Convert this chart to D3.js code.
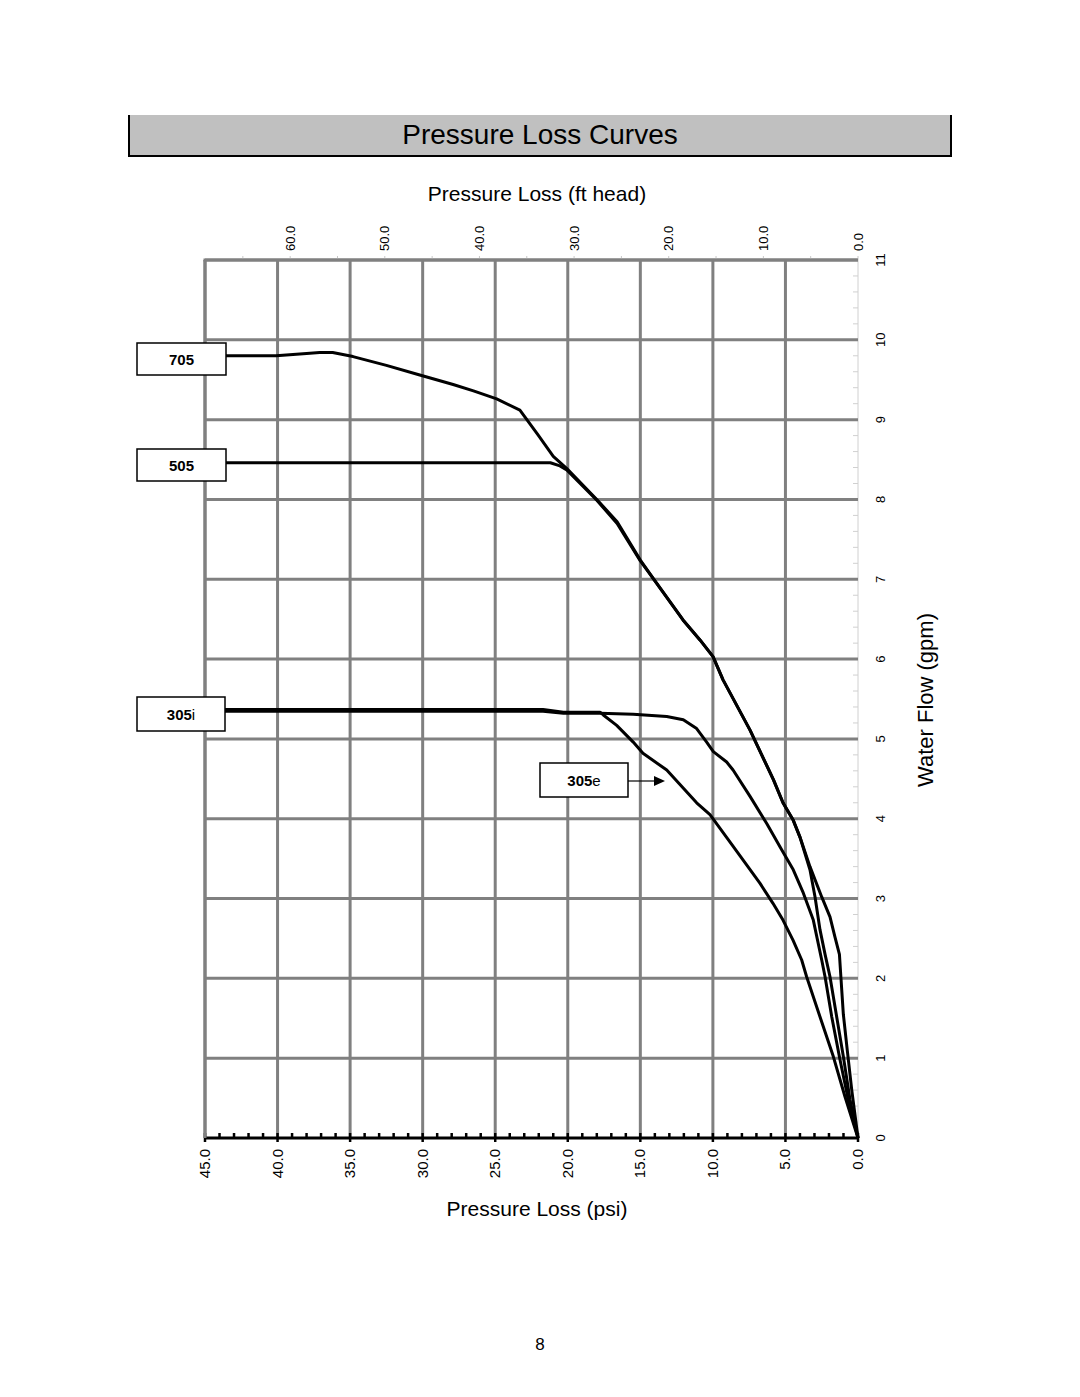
<!DOCTYPE html>
<html>
<head>
<meta charset="utf-8">
<script src="https://cdn.jsdelivr.net/npm/d3@7/dist/d3.min.js"></script>
<style>
  html, body { margin: 0; padding: 0; background: #fff; }
  svg { display: block; font-family: "Liberation Sans", Arial, sans-serif; }
</style>
</head>
<body>
<svg id="chart" width="1080" height="1397"></svg>
<script>
// ---- Data (pressure loss psi, water flow gpm) ----
const psiTicks = [45, 40, 35, 30, 25, 20, 15, 10, 5, 0];
const ftTicks = [60, 50, 40, 30, 20, 10, 0];
const gpmTicks = [0, 1, 2, 3, 4, 5, 6, 7, 8, 9, 10, 11];

const series705 = [
  [45, 9.80], [40.1, 9.80], [38.0, 9.83], [37.1, 9.84], [36.2, 9.84], [34.8, 9.79],
  [32.5, 9.68], [30.2, 9.56], [27.9, 9.44], [26.5, 9.36], [24.9, 9.26], [23.3, 9.12],
  [22.05, 8.81], [21.0, 8.54], [20.08, 8.39], [18.0, 8.00], [16.6, 7.72], [15.0, 7.24],
  [13.87, 6.95], [12.06, 6.49], [10.89, 6.24], [9.99, 6.03], [9.30, 5.74], [7.44, 5.11],
  [5.83, 4.49], [5.17, 4.20], [4.46, 3.98], [4.00, 3.77], [3.31, 3.40], [2.50, 3.02],
  [1.93, 2.77], [1.59, 2.52], [1.28, 2.30], [1.18, 2.02], [1.01, 1.55], [0.74, 1.10],
  [0.43, 0.60], [0, 0]
];
const series505 = [
  [45, 8.46], [21.2, 8.46], [20.54, 8.42], [20.07, 8.37], [18.0, 7.99], [16.6, 7.70],
  [15.0, 7.23], [13.87, 6.95], [12.06, 6.49], [10.89, 6.24], [9.99, 6.03], [9.30, 5.74],
  [7.44, 5.11], [5.83, 4.49], [5.17, 4.20], [4.46, 3.98], [4.00, 3.77], [3.31, 3.36],
  [2.96, 3.02], [2.62, 2.61], [2.27, 2.30], [1.93, 2.02], [1.47, 1.52], [1.01, 1.02],
  [0.55, 0.48], [0, 0]
];
const series305i = [
  [45, 5.345], [21.7, 5.345], [20.3, 5.32], [17.78, 5.32], [15.49, 5.31], [13.18, 5.28],
  [12.04, 5.24], [11.12, 5.13], [10.43, 4.96], [9.97, 4.84], [9.05, 4.71], [8.61, 4.61],
  [7.44, 4.28], [6.29, 3.94], [5.26, 3.61], [4.46, 3.36], [3.77, 3.07], [3.08, 2.73],
  [2.50, 2.23], [2.27, 2.02], [1.81, 1.52], [1.24, 0.98], [0.67, 0.48], [0, 0]
];
const series305e = [
  [45, 5.37], [21.7, 5.37], [20.3, 5.335], [17.78, 5.335], [17.55, 5.30], [16.63, 5.17],
  [15.49, 4.96], [14.82, 4.82], [13.18, 4.61], [11.12, 4.20], [10.20, 4.05], [8.59, 3.65],
  [6.75, 3.19], [5.86, 2.94], [5.17, 2.73], [4.48, 2.48], [3.88, 2.23], [3.54, 2.02],
  [2.62, 1.52], [1.70, 1.02], [0.90, 0.52], [0, 0]
];
const seriesNames = ["705", "505", "305i", "305e"];

// ---- Layout ----
const svg = d3.select("#chart");
const X0 = 205, X1 = 858, Y0 = 1138, Y1 = 260;
const x = d3.scaleLinear().domain([45, 0]).range([X0, X1]);
const xFt = d3.scaleLinear().domain([69, 0]).range([X0, X1]);
const y = d3.scaleLinear().domain([0, 11]).range([Y0, Y1]);

// Title box
svg.append("rect").attr("x", 128).attr("y", 115).attr("width", 824).attr("height", 41)
  .attr("fill", "#c0c0c0");
svg.append("path").attr("d", "M129,115 V156 H951 V115")
  .attr("fill", "none").attr("stroke", "#000").attr("stroke-width", 2);
svg.append("text").attr("x", 540).attr("y", 144).attr("text-anchor", "middle")
  .attr("font-size", 28).text("Pressure Loss Curves");

// Axis titles
svg.append("text").attr("x", 537).attr("y", 201).attr("text-anchor", "middle")
  .attr("font-size", 21).text("Pressure Loss (ft head)");
svg.append("text").attr("x", 537).attr("y", 1216).attr("text-anchor", "middle")
  .attr("font-size", 21).text("Pressure Loss (psi)");
svg.append("text").attr("transform", "translate(933,700) rotate(-90)")
  .attr("text-anchor", "middle").attr("font-size", 22).text("Water Flow (gpm)");

// Right axis line and minor ticks
svg.append("line").attr("x1", X1).attr("x2", X1).attr("y1", Y1).attr("y2", Y0)
  .attr("stroke", "#d0d0d0").attr("stroke-width", 1);
const minorGpm = d3.range(0, 11.0001, 0.2);
svg.append("g").selectAll("line").data(minorGpm).join("line")
  .attr("x1", X1 - 5).attr("x2", X1).attr("y1", d => y(d)).attr("y2", d => y(d))
  .attr("stroke", "#d0d0d0").attr("stroke-width", 1);

// Grid
const grid = svg.append("g").attr("stroke", "#808080").attr("stroke-width", 3);
grid.selectAll("line.h").data(gpmTicks.filter(d => d > 0)).join("line").attr("class", "h")
  .attr("x1", X0).attr("x2", X1).attr("y1", d => y(d)).attr("y2", d => y(d));
grid.selectAll("line.v").data(psiTicks.filter(d => d > 0)).join("line").attr("class", "v")
  .attr("x1", d => x(d)).attr("x2", d => x(d)).attr("y1", Y1).attr("y2", Y0);

// Top axis (ft head) ticks & labels
svg.append("g").selectAll("line").data(d3.range(0, 69, 5)).join("line")
  .attr("x1", d => xFt(d)).attr("x2", d => xFt(d)).attr("y1", Y1 - 4).attr("y2", Y1)
  .attr("stroke", "#c8c8c8").attr("stroke-width", 1);
svg.append("g").selectAll("text").data(ftTicks).join("text")
  .attr("transform", d => `translate(${xFt(d) + 4.5},251) rotate(-90)`)
  .attr("font-size", 13).attr("text-anchor", "start")
  .text(d => d.toFixed(1));

// Right axis labels
svg.append("g").selectAll("text").data(gpmTicks).join("text")
  .attr("transform", d => `translate(885,${y(d)}) rotate(-90)`)
  .attr("font-size", 13).attr("text-anchor", "middle")
  .text(d => d);

// Bottom axis: thick black with psi ticks
svg.append("g").selectAll("line").data(d3.range(0, 45.001, 1)).join("line")
  .attr("x1", d => x(d)).attr("x2", d => x(d))
  .attr("y1", Y0 - 5).attr("y2", d => (d % 5 === 0 ? Y0 + 4 : Y0))
  .attr("stroke", "#000").attr("stroke-width", 2.5);
svg.append("line").attr("x1", X0).attr("x2", X1).attr("y1", Y0).attr("y2", Y0)
  .attr("stroke", "#000").attr("stroke-width", 3);
svg.append("g").selectAll("text").data(psiTicks).join("text")
  .attr("transform", d => `translate(${x(d) + 5},1149) rotate(-90)`)
  .attr("font-size", 15).attr("text-anchor", "end")
  .text(d => d.toFixed(1));

// Top axis line (gray)
svg.append("line").attr("x1", X0 - 1.5).attr("x2", X1).attr("y1", Y1).attr("y2", Y1)
  .attr("stroke", "#808080").attr("stroke-width", 3);
svg.append("line").attr("x1", X0).attr("x2", X0).attr("y1", Y1).attr("y2", Y0)
  .attr("stroke", "#808080").attr("stroke-width", 3);

// Curves
const line = d3.line().x(d => x(d[0])).y(d => y(d[1])).curve(d3.curveLinear);
const allSeries = [series705, series505, series305i, series305e];
svg.append("g").selectAll("path").data(allSeries).join("path")
  .attr("d", line).attr("fill", "none").attr("stroke", "#000")
  .attr("stroke-width", 3).attr("stroke-linejoin", "round");

// Labels (boxes)
const boxes = [
  { name: seriesNames[0], x: 137, y: 343, w: 89, h: 32 },
  { name: seriesNames[1], x: 137, y: 449, w: 89, h: 32 },
  { name: seriesNames[2], x: 137, y: 697, w: 88, h: 34 },
  { name: seriesNames[3], x: 540, y: 763, w: 88, h: 34 }
];
const bg = svg.append("g");
boxes.forEach(b => {
  bg.append("rect").attr("x", b.x).attr("y", b.y).attr("width", b.w).attr("height", b.h)
    .attr("fill", "#fff").attr("stroke", "#000").attr("stroke-width", 1.5);
  const t = bg.append("text").attr("x", b.x + b.w / 2).attr("y", b.y + b.h / 2 + 5.5)
    .attr("text-anchor", "middle").attr("font-size", 15);
  t.append("tspan").attr("font-weight", "bold").text(b.name.slice(0, 3));
  if (b.name.length > 3) t.append("tspan").text(b.name.slice(3));
});
// Arrow for 305e
svg.append("line").attr("x1", 628).attr("x2", 655).attr("y1", 781).attr("y2", 781)
  .attr("stroke", "#000").attr("stroke-width", 1.2);
svg.append("path").attr("d", "M654,776 L665,781 L654,786 Z").attr("fill", "#000");

// Page number
svg.append("text").attr("x", 540).attr("y", 1350).attr("text-anchor", "middle")
  .attr("font-size", 17).text("8");
</script>
</body>
</html>
